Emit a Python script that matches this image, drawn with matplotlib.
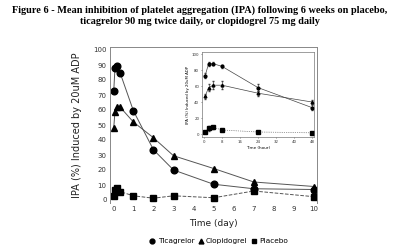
import numpy as np
import matplotlib
matplotlib.use('Agg')
from matplotlib import pyplot

# main panel, time in days
days = [0.021, 0.083, 0.167, 0.333, 1, 2, 3, 5, 7, 10]
ticagrelor = [72.5, 88, 89.5, 85, 59.5, 33.5, 20, 10.5, 7.5, 7]
clopidogrel = [48, 59, 62, 62, 52, 41.5, 29.5, 21, 12, 9]
placebo = [3, 7, 8.2, 5.6, 2.8, 1.2, 2.8, 1.5, 6, 2.2]

# inset, time in hours
hours = [0.5, 2, 4, 8, 24, 48]
tica_h = [73, 87.5, 88, 84.5, 58, 33]
clop_h = [47, 58, 61, 61, 51, 40]
plac_h = [3, 7, 8.5, 5, 2.5, 1.5]
tica_err = [3, 2, 1.5, 2, 4, 3]
clop_err = [3, 4, 5, 5, 3, 3]
plac_err = [1, 3, 2, 1, 1, 1]

legend_labels = ['Ticagrelor', 'Clopidogrel', 'Placebo']

fig = pyplot.figure(figsize=(4, 2.5), dpi=100)

fig.text(0.5, 0.96, 'Figure 6 - Mean inhibition of platelet aggregation (IPA) following 6 weeks on placebo,',
         ha='center', va='center', family='Liberation Serif', weight='bold', fontsize=7.4)
fig.text(0.5, 0.912, 'ticagrelor 90 mg twice daily, or clopidogrel 75 mg daily',
         ha='center', va='center', family='Liberation Serif', weight='bold', fontsize=7.4)

ax = fig.add_axes([0.275, 0.188, 0.5175, 0.624])
line_kw = dict(color='#555555', lw=0.7, mfc='black', mec='black')
ax.plot(days, ticagrelor, marker='o', ms=4.8, **line_kw)
ax.plot(days, clopidogrel, marker='^', ms=4.8, **line_kw)
ax.plot(days, placebo, marker='s', ms=5, ls='--', **line_kw)

ax.set_xlim(-0.165, 10.15)
ax.set_ylim(-2, 102)
ax.set_xticks(range(0, 11))
ax.set_yticks(range(0, 101, 10))
ax.tick_params(labelsize=5, length=0, pad=2.5, colors='#333333')
for side in ['left', 'top', 'right']:
    ax.spines[side].set_color('#888888')
    ax.spines[side].set_linewidth(0.7)
ax.spines['bottom'].set_visible(False)
ax.set_xlabel('Time (day)', fontsize=6.5, labelpad=5, color='#222222')
ax.set_ylabel('IPA (%) Induced by 20uM ADP', fontsize=7, labelpad=8, color='#222222')

# inset
ins = fig.add_axes([0.505, 0.452, 0.28, 0.34])
err_kw = dict(color='#444444', lw=0.5, mfc='black', mec='black', capsize=0.8, elinewidth=0.5)
ins.errorbar(hours, tica_h, yerr=tica_err, marker='o', ms=2, **err_kw)
ins.errorbar(hours, clop_h, yerr=clop_err, marker='^', ms=2, **err_kw)
ins.errorbar(hours, plac_h, yerr=plac_err, marker='s', ms=2.5, ls=':', **err_kw)
ins.set_xlim(-0.9, 48.9)
ins.set_ylim(-3.75, 102.5)
ins.set_xticks(range(0, 49, 8))
ins.set_yticks(range(0, 101, 20))
ins.tick_params(labelsize=2.8, length=1, width=0.4, pad=1, colors='#333333')
for s in ins.spines.values():
    s.set_color('#777777')
    s.set_linewidth(0.5)
ins.set_xlabel('Time (hour)', fontsize=3, labelpad=1.5)
ins.set_ylabel('IPA (%) Induced by 20uM ADP', fontsize=2.8, labelpad=1)

handles = [
    ax.plot([], [], 'o', color='black', ms=3.5)[0],
    ax.plot([], [], '^', color='black', ms=3.5)[0],
    ax.plot([], [], 's', color='black', ms=3.5)[0],
]
fig.legend(handles, legend_labels, loc='center', bbox_to_anchor=(0.548, 0.035), ncol=3,
           frameon=False, fontsize=5.3, handlelength=0.6, handletextpad=0.4,
           columnspacing=0.6, borderpad=0)

pyplot.savefig('out.png', dpi=100)
